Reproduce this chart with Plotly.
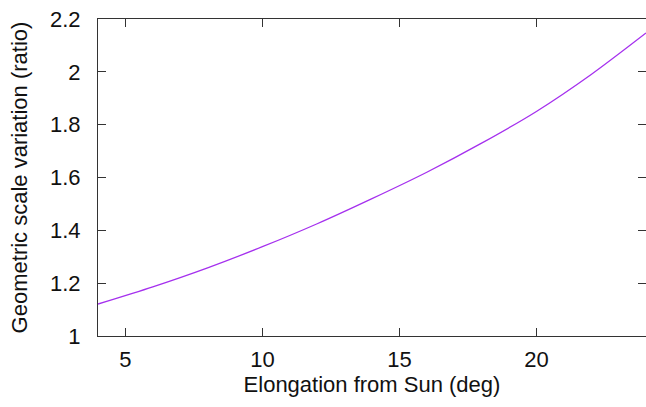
import plotly.graph_objects as go

elongation_deg = [4, 6, 8, 10, 12, 14, 16, 18, 20, 22, 24]
scale_ratio = [1.121, 1.186, 1.258, 1.338, 1.425, 1.52, 1.62, 1.73, 1.85, 1.99, 2.147]
x_ticks = [5, 10, 15, 20]
y_ticks = [1, 1.2, 1.4, 1.6, 1.8, 2, 2.2]
y_tick_labels = ["1", "1.2", "1.4", "1.6", "1.8", "2", "2.2"]

fig = go.Figure()
fig.add_trace(go.Scatter(
    x=elongation_deg, y=scale_ratio, mode="lines",
    line=dict(color="#a530ee", width=1.3, shape="spline", smoothing=0.8),
    showlegend=False, hoverinfo="skip",
))

font = dict(family="Liberation Sans, Arial, Helvetica, sans-serif", size=22, color="#111")
axis_common = dict(
    showline=True, linecolor="#333", linewidth=1.2, mirror="ticks",
    ticks="inside", ticklen=8, tickcolor="#333", tickwidth=1,
    showgrid=False, zeroline=False, tickfont=font,
)
fig.update_layout(
    width=646, height=407,
    margin=dict(l=98, r=0, t=19, b=71),
    paper_bgcolor="white", plot_bgcolor="white",
    font=font,
    xaxis=dict(range=[4, 24], tickvals=x_ticks,
               title=dict(text="Elongation from Sun (deg)", font=font, standoff=6),
               ticklabelstandoff=3, **axis_common),
    yaxis=dict(range=[1, 2.2], tickvals=y_ticks, ticktext=y_tick_labels,
               title=dict(text="Geometric scale variation (ratio)", font=font, standoff=16),
               ticklabelstandoff=12, **axis_common),
)
fig.write_html("out.html")
